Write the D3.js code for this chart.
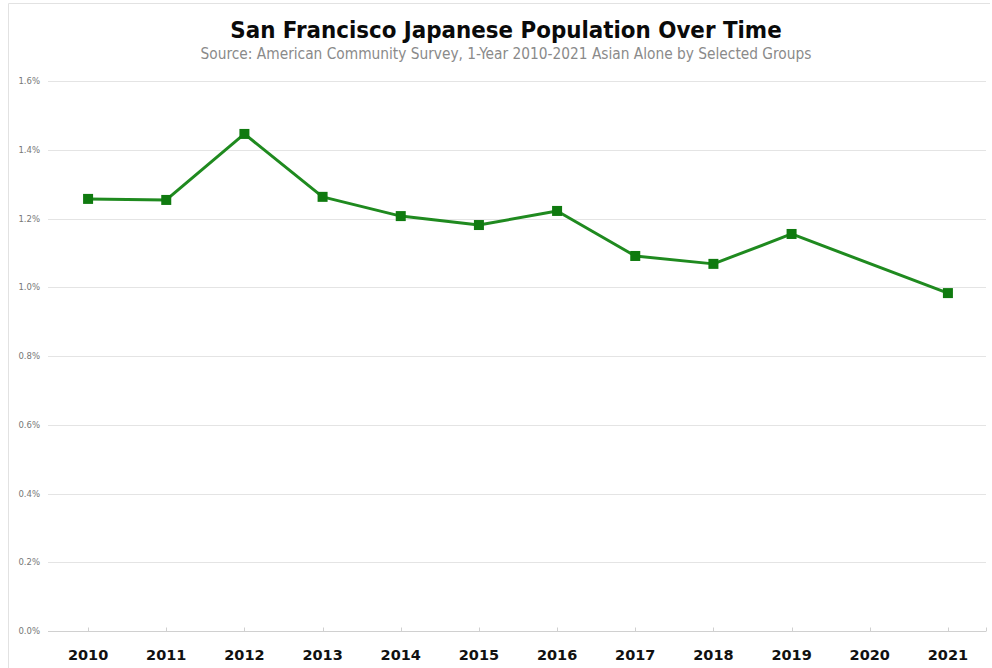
<!DOCTYPE html>
<html>
<head>
<meta charset="utf-8">
<script src="https://cdn.jsdelivr.net/npm/d3@7"></script>
<style>
  body { margin: 0; background: #fff; }
  svg { display: block; }
</style>
</head>
<body>
<div id="chart"></div>
<script>
const years = ['2010', '2011', '2012', '2013', '2014', '2015', '2016', '2017', '2018', '2019', '2020', '2021'];
const share = [1.257, 1.254, 1.446, 1.263, 1.207, 1.181, 1.222, 1.091, 1.068, 1.155, null, 0.983];
const yTicks = [0, 0.2, 0.4, 0.6, 0.8, 1.0, 1.2, 1.4, 1.6];

const width = 992,
    height = 668,
    lineColor = '#1f8a1f',
    markColor = '#0f7a0f';

const svg = d3.select('#chart')
    .append('svg')
        .attr('width', width)
        .attr('height', height);

// frame
svg.append('path')
    .attr('d', 'M8.5,' + height + 'L8.5,3.5L' + (width - 2) + ',3.5')
    .attr('fill', 'none')
    .attr('stroke', '#e2e2e2');

const x = d3.scalePoint()
    .domain(years)
    .range([49, 987])
    .padding(0.5);

const y = d3.scaleLinear()
    .domain([0, 1.6])
    .range([631, 81]);

// grid
svg.append('g')
    .selectAll('line')
    .data(yTicks)
    .enter()
    .append('line')
        .attr('x1', 48)
        .attr('x2', 986)
        .attr('y1', d => Math.round(y(d)) + 0.5)
        .attr('y2', d => Math.round(y(d)) + 0.5)
        .attr('stroke', d => d === 0 ? '#d0d0d0' : '#e4e4e4');

svg.append('g')
    .selectAll('text')
    .data(yTicks)
    .enter()
    .append('text')
        .attr('x', 40)
        .attr('y', d => y(d) + 3)
        .attr('text-anchor', 'end')
        .style('font-family', 'DejaVu Sans, sans-serif')
        .style('font-size', '8.5px')
        .style('fill', '#777')
        .text(d => d3.format('.1f')(d) + '%');

// x axis ticks + labels
const xAxisG = svg.append('g')
    .attr('transform', 'translate(0,' + (Math.round(y(0)) + 0.5) + ')');

xAxisG.selectAll('line')
    .data(years.concat(['end']))
    .enter()
    .append('line')
        .attr('x1', d => d === 'end' ? 986.5 : Math.round(x(d)) + 0.5)
        .attr('x2', d => d === 'end' ? 986.5 : Math.round(x(d)) + 0.5)
        .attr('y1', -4)
        .attr('y2', 0)
        .attr('stroke', '#d0d0d0');

xAxisG.selectAll('text')
    .data(years)
    .enter()
    .append('text')
        .attr('x', d => x(d))
        .attr('y', 28)
        .attr('text-anchor', 'middle')
        .style('font-family', 'DejaVu Sans, sans-serif')
        .style('font-weight', 'bold')
        .style('font-size', '14.5px')
        .style('fill', '#111')
        .text(d => d);

// line, skipping missing years
const points = years
    .map((yr, i) => ({ year: yr, v: share[i] }))
    .filter(d => d.v !== null);

const line = d3.line()
    .x(d => x(d.year))
    .y(d => y(d.v));

svg.append('path')
    .datum(points)
    .attr('d', line)
    .attr('fill', 'none')
    .attr('stroke', lineColor)
    .attr('stroke-width', 3)
    .attr('stroke-linejoin', 'round');

svg.append('g')
    .selectAll('rect')
    .data(points)
    .enter()
    .append('rect')
        .attr('x', d => x(d.year) - 5)
        .attr('y', d => y(d.v) - 5)
        .attr('width', 10)
        .attr('height', 10)
        .attr('fill', markColor);

// titles
svg.append('text')
    .attr('x', 506)
    .attr('y', 38)
    .attr('text-anchor', 'middle')
    .style('font-family', 'DejaVu Sans Condensed, DejaVu Sans, sans-serif')
    .style('font-weight', 'bold')
    .style('font-size', '23.8px')
    .style('fill', '#0a0a0a')
    .text('San Francisco Japanese Population Over Time');

svg.append('text')
    .attr('x', 506)
    .attr('y', 59)
    .attr('text-anchor', 'middle')
    .style('font-family', 'DejaVu Sans Condensed, DejaVu Sans, sans-serif')
    .style('font-size', '15.3px')
    .style('fill', '#8a8a8a')
    .text('Source: American Community Survey, 1-Year 2010-2021 Asian Alone by Selected Groups');
</script>
</body>
</html>
